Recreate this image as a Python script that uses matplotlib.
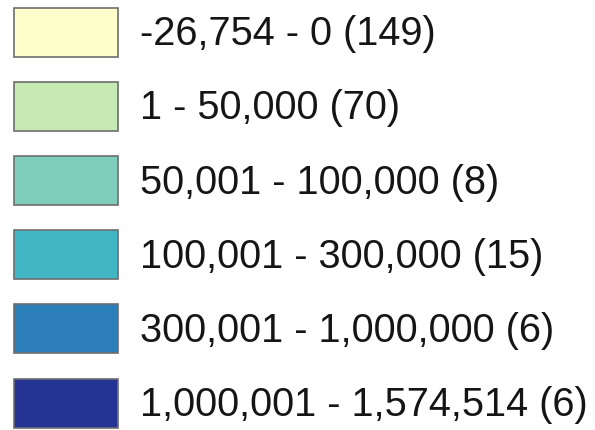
import matplotlib
matplotlib.use('Agg')
import matplotlib.pyplot as plt

# legend classes (YlGnBu style choropleth)
labels = ['-26,754 - 0 (149)', '1 - 50,000 (70)', '50,001 - 100,000 (8)',
          '100,001 - 300,000 (15)', '300,001 - 1,000,000 (6)',
          '1,000,001 - 1,574,514 (6)']
colors = ['#ffffcc', '#c7e9b4', '#7fcdbb', '#41b6c4', '#2c7fb8', '#253494']

W, H = 595, 430
row_px = 74.2
first_px = 32

fig = plt.figure(figsize=(W / 100, H / 100), dpi=100)
ax = fig.add_axes([0, 0, 1, 1])
ax.set_xlim(0, W)
ax.set_ylim((H - first_px) / row_px, -first_px / row_px)
ax.axis('off')

rows = list(range(len(labels)))
ax.barh(rows, [104] * len(rows), left=14, height=49 / row_px,
        color=colors, edgecolor='#6e6e6e', linewidth=1.2)
for i, lab in zip(rows, labels):
    ax.text(140, i + 0.03, lab, fontsize=28.6, va='center', ha='left',
            family=['Liberation Sans', 'DejaVu Sans'], color='#151515')

fig.savefig('out.png', dpi=100)
